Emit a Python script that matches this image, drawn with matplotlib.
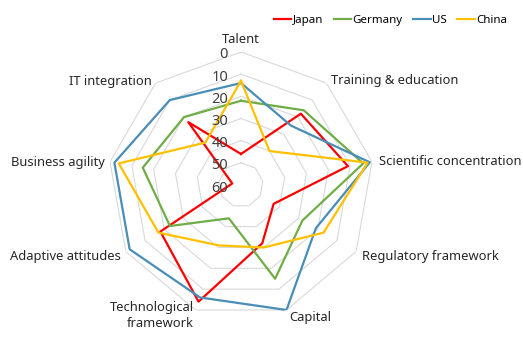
import numpy as np
import matplotlib.pyplot as plt

plt.rcParams['font.family'] = ['Noto Sans', 'DejaVu Sans']

categories = ['Talent', 'Training & education', 'Scientific concentration', 'Regulatory framework',
              'Capital', 'Technological\nframework', 'Adaptive attitudes', 'Business agility', 'IT integration']
japan = [46, 18, 11, 43, 32, 4, 18, 56, 23]
germany = [22, 16, 4, 28, 15, 44, 23, 15, 20]
us = [14, 25, 1, 21, 0, 6, 2, 2, 10]
china = [13, 40, 2, 17, 30, 31, 17, 4, 35]
ticks = [0, 10, 20, 30, 40, 50, 60]

series = [('Japan', japan, '#ff0000'), ('Germany', germany, '#70ad47'),
          ('US', us, '#4a8db7'), ('China', china, '#ffc000')]

n = len(categories)
theta = np.linspace(0, 2 * np.pi, n, endpoint=False)
theta_c = np.append(theta, theta[0])

fig = plt.figure(figsize=(5.23, 3.37), dpi=100)
ax = fig.add_axes([108 / 523, 19 / 337, 266 / 523, 266 / 337], projection='polar')
ax.set_theta_zero_location('N')
ax.set_theta_direction(-1)
ax.set_ylim(60, 0)

# nonagon grid rings
for t in ticks[:-1]:
    ax.plot(theta_c, [t] * (n + 1), color='#d9d9d9', lw=0.8, zorder=1)

for name, vals, col in series:
    ax.plot(theta_c, vals + vals[:1], color=col, lw=1.6, label=name, zorder=3)

ax.grid(False)
ax.spines['polar'].set_visible(False)
ax.set_xticks([])
ax.set_yticks([])

# radial tick labels
for t in ticks:
    ax.annotate(str(t), (0, t), xytext=(-13, -3), textcoords='offset pixels',
                ha='right', va='center', fontsize=10.5, color='#404040')

# category labels
label_style = [('center', 'bottom', 0, 6), ('left', 'center', 5, 3), ('left', 'center', 7, 0),
               ('left', 'center', 6, -5), ('left', 'center', 3, -8), ('right', 'center', -2, -6),
               ('right', 'center', -5, -5), ('right', 'center', -5, -1), ('right', 'center', -4, 2)]
for th, lab, (ha, va, dx, dy) in zip(theta, categories, label_style):
    ax.annotate(lab, (th, 0), xytext=(dx, dy), textcoords='offset pixels',
                ha=ha, va=va, fontsize=9.3, color='#262626', linespacing=1.3)

fig.legend(loc='upper right', bbox_to_anchor=(0.99, 0.985), ncol=4, frameon=False, fontsize=8.3,
           handlelength=1.5, handletextpad=0.15, columnspacing=0.9)

plt.savefig('out.png', dpi=100)
